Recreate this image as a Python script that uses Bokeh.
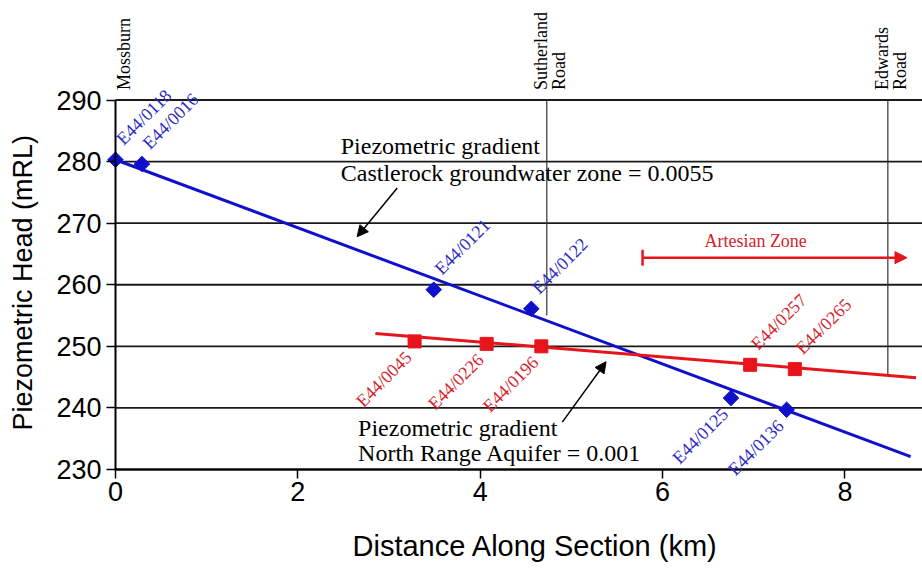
from bokeh.plotting import figure
from bokeh.models import (Range1d, Arrow, NormalHead, TeeHead, Label, LabelSet,
                          ColumnDataSource, FixedTicker)
from bokeh.embed import file_html
from bokeh.resources import INLINE

# Castlerock groundwater zone bores
castle_wells = ["E44/0118", "E44/0016", "E44/0121", "E44/0122", "E44/0125", "E44/0136"]
castle_dist = [0.0, 0.29, 3.49, 4.56, 6.75, 7.36]
castle_head = [280.3, 279.6, 259.2, 256.1, 241.6, 239.7]
castle_label_side = ["above", "above", "above", "above", "below", "below"]

# North Range Aquifer bores
north_wells = ["E44/0045", "E44/0226", "E44/0196", "E44/0257", "E44/0265"]
north_dist = [3.28, 4.07, 4.67, 6.96, 7.45]
north_head = [250.8, 250.4, 250.0, 247.0, 246.3]
north_label_side = ["below", "below", "below", "above", "above"]

# Fitted piezometric gradients
castle_fit_dist = [0.0, 8.72]
castle_fit_head = [280.3, 232.1]
north_fit_dist = [2.85, 8.78]
north_fit_head = [252.1, 244.9]

# Road crossings along the section
road_names = [["Mossburn"], ["Sutherland", "Road"], ["Edwards", "Road"]]
road_dist = [0.0, 4.73, 8.47]
road_line_bottom = [290.0, 255.0, 245.3]

# Artesian zone extent
artesian_start = 5.78
artesian_end = 8.68
artesian_head = 264.4

# Gradient annotations: text anchor and arrow (start -> tip)
castle_note = ["Piezometric gradient", "Castlerock groundwater zone = 0.0055"]
castle_note_pos = (2.47, 282.6, 278.2)
castle_arrow = (3.09, 275.7, 2.65, 267.8)
north_note = ["Piezometric gradient", "North Range Aquifer = 0.001"]
north_note_pos = (2.66, 236.8, 232.6)
north_arrow = (4.90, 237.7, 5.38, 247.5)

x_ticks = [0, 2, 4, 6, 8]
y_ticks = [230, 240, 250, 260, 270, 280, 290]
dist_min, dist_max = 0.0, 8.85
head_min, head_max = 230, 290
x_title = "Distance Along Section (km)"
y_title = "Piezometric Head (mRL)"

BLUE = "#1010cc"
BLUE_TXT = "#2a2ac4"
RED = "#e8141c"
RED_TXT = "#d41e2a"
SERIF = "Liberation Serif"
SANS = "Liberation Sans"

# Layout in pixels: the plotting frame fills the whole page and the axes are
# pinned at distance 0 / head 230, leaving room for tick labels and titles.
W, H = 922, 575
left_px, top_px, bottom_px = 115, 99.5, 106
px_per_km = (W - left_px) / (dist_max - dist_min)
px_per_m = (H - top_px - bottom_px) / (head_max - head_min)

p = figure(width=W, height=H, output_backend="svg", toolbar_location=None,
           x_range=Range1d(dist_min - left_px / px_per_km, dist_max),
           y_range=Range1d(head_min - bottom_px / px_per_m, head_max + top_px / px_per_m),
           min_border=0)
p.outline_line_color = None
p.background_fill_color = "white"
p.border_fill_color = "white"
p.grid.visible = False

for ax in (p.xaxis[0], p.yaxis[0]):
    ax.axis_line_color = "black"
    ax.axis_line_width = 2
    ax.major_tick_line_color = "black"
    ax.major_tick_line_width = 1.5
    ax.major_tick_out = 9
    ax.major_tick_in = 0
    ax.minor_tick_line_color = None
    ax.major_label_text_font = SANS
    ax.major_label_text_font_size = "27px"
    ax.major_label_text_color = "black"

p.xaxis.fixed_location = head_min
p.yaxis.fixed_location = dist_min
p.xaxis.bounds = (dist_min, dist_max)
p.yaxis.bounds = (head_min, head_max)
p.xaxis.ticker = FixedTicker(ticks=x_ticks)
p.yaxis.ticker = FixedTicker(ticks=y_ticks)
p.xaxis.major_label_standoff = 3
p.yaxis.major_label_standoff = 5

# Horizontal grid across the section
p.segment(x0=[dist_min] * len(y_ticks), y0=y_ticks, x1=[dist_max] * len(y_ticks),
          y1=y_ticks, line_color="#1a1a1a", line_width=1.8)

# Axis titles
p.add_layout(Label(x=dist_min, y=head_min, x_offset=237, y_offset=-76, text=x_title,
                   text_font=SANS, text_font_size="29px", text_color="black",
                   text_align="left", text_baseline="middle"))
p.add_layout(Label(x=dist_min, y=head_min, x_offset=-93, y_offset=39, text=y_title,
                   angle=90, angle_units="deg", text_font=SANS, text_font_size="27px",
                   text_color="black", text_align="left", text_baseline="middle"))

# Road reference lines
p.segment(x0=road_dist[1:], y0=[head_max] * 2, x1=road_dist[1:], y1=road_line_bottom[1:],
          line_color="#333333", line_width=1.2)

for names, xd in zip(road_names, road_dist):
    offsets = [8] if len(names) == 1 else [-6, 12]
    for name, dx in zip(names, offsets):
        p.add_layout(Label(x=xd, y=head_max, text=name, angle=90, angle_units="deg",
                           x_offset=dx, y_offset=10, text_align="left",
                           text_baseline="middle", text_font=SERIF,
                           text_font_size="18px", text_color="black"))

# Gradient lines
p.line(castle_fit_dist, castle_fit_head, line_color=BLUE, line_width=3)
p.line(north_fit_dist, north_fit_head, line_color=RED, line_width=3)

# Bore observations
p.scatter(castle_dist, castle_head, marker="square", angle=45, angle_units="deg",
          size=11, fill_color=BLUE, line_color=BLUE)
p.scatter(north_dist, north_head, marker="square", size=13,
          fill_color=RED, line_color=RED)


def well_labels(names, xs, ys, sides, color):
    for side in ("above", "below"):
        idx = [i for i, s in enumerate(sides) if s == side]
        if not idx:
            continue
        src = ColumnDataSource(dict(x=[xs[i] for i in idx], y=[ys[i] for i in idx],
                                    t=[names[i] for i in idx]))
        if side == "above":
            kw = dict(text_align="left", text_baseline="bottom", x_offset=11, y_offset=11)
        else:
            kw = dict(text_align="right", text_baseline="top", x_offset=-13, y_offset=-6)
        p.add_layout(LabelSet(x="x", y="y", text="t", source=src, angle=45,
                              angle_units="deg", text_font=SERIF, text_font_size="18px",
                              text_color=color, **kw))


well_labels(castle_wells, castle_dist, castle_head, castle_label_side, BLUE_TXT)
well_labels(north_wells, north_dist, north_head, north_label_side, RED_TXT)

# Gradient annotations
for note, pos, arr in ((castle_note, castle_note_pos, castle_arrow),
                       (north_note, north_note_pos, north_arrow)):
    for line_text, yy in zip(note, pos[1:]):
        p.add_layout(Label(x=pos[0], y=yy, text=line_text, text_font=SERIF,
                           text_font_size="24px", text_color="black",
                           text_align="left", text_baseline="middle"))
    p.add_layout(Arrow(end=NormalHead(size=11, fill_color="black", line_color="black"),
                       x_start=arr[0], y_start=arr[1], x_end=arr[2], y_end=arr[3],
                       line_color="black", line_width=1.5))

# Artesian zone
p.add_layout(Arrow(start=TeeHead(size=16, line_color=RED, line_width=2.5),
                   end=NormalHead(size=12, fill_color=RED, line_color=RED),
                   x_start=artesian_start, y_start=artesian_head,
                   x_end=artesian_end, y_end=artesian_head,
                   line_color=RED, line_width=2.5))
p.add_layout(Label(x=(artesian_start + artesian_end) / 2 - 0.21, y=artesian_head,
                   y_offset=17, text="Artesian Zone", text_font=SERIF,
                   text_font_size="18px", text_color=RED_TXT,
                   text_align="center", text_baseline="middle"))

open("out.html", "w").write(file_html(p, INLINE))
